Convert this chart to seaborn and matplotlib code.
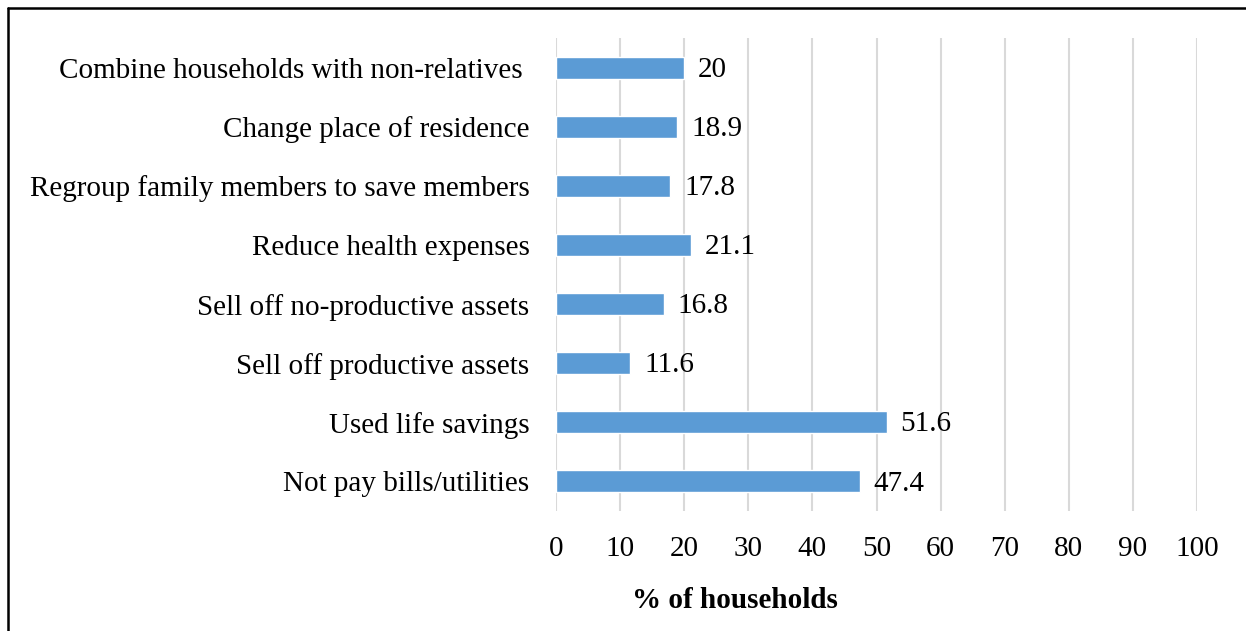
import matplotlib
matplotlib.use("Agg")
import matplotlib.pyplot as plt
from matplotlib.lines import Line2D
import seaborn as sns
import pandas as pd

# Coping strategies reported by households
strategies = [
    "Combine households with non-relatives ",
    "Change place of residence",
    "Regroup family members to save members",
    "Reduce health expenses",
    "Sell off no-productive assets",
    "Sell off productive assets",
    "Used life savings",
    "Not pay bills/utilities",
]
shares = [20, 18.9, 17.8, 21.1, 16.8, 11.6, 51.6, 47.4]
value_labels = ["20", "18.9", "17.8", "21.1", "16.8", "11.6", "51.6", "47.4"]
x_ticks = [0, 10, 20, 30, 40, 50, 60, 70, 80, 90, 100]

df = pd.DataFrame({"strategy": strategies, "share": shares})

sns.set_theme(style="white")
plt.rcParams["font.family"] = ["Liberation Serif", "DejaVu Serif"]
plt.rcParams["text.color"] = "black"
plt.rcParams["xtick.color"] = "black"
plt.rcParams["ytick.color"] = "black"
plt.rcParams["axes.labelcolor"] = "black"

FS = 21

fig = plt.figure(figsize=(12.46, 6.31), dpi=100)
ax = fig.add_axes([556 / 1246, 1 - 511 / 631, (1197 - 556) / 1246, (511 - 38) / 631])

sns.barplot(data=df, x="share", y="strategy", order=strategies, orient="h",
            color="#5B9BD5", saturation=1, width=0.37, ax=ax, zorder=3)

ax.set_xlim(0, 100)
ax.set_xticks(x_ticks)
ax.set_xticklabels([str(t) for t in x_ticks])
ax.grid(axis="x", color="#d9d9d9", linewidth=1.5, zorder=0)
ax.grid(axis="y", visible=False)
for s in ax.spines.values():
    s.set_visible(False)
ax.tick_params(axis="y", length=0, pad=19, labelsize=FS)
ax.tick_params(axis="x", length=0, pad=18, labelsize=FS)
ax.set_ylabel("")
ax.set_xlabel("% of households", fontsize=FS, fontweight="bold")
ax.xaxis.set_label_coords((735 - 556) / 641, -0.161)

for i, (v, lab) in enumerate(zip(shares, value_labels)):
    ax.annotate(lab, xy=(v, i), xytext=(10, -1.5), textcoords="offset points",
                ha="left", va="center", fontsize=FS, color="black")

# Outer frame lines along the top and left edges
fig.add_artist(Line2D([8 / 1246, 8 / 1246], [0, 1 - 8 / 631], color="black", linewidth=1.8,
                      transform=fig.transFigure))
fig.add_artist(Line2D([8 / 1246, 1], [1 - 8 / 631, 1 - 8 / 631], color="black", linewidth=1.8,
                      transform=fig.transFigure))

fig.savefig("out.png", dpi=100)
